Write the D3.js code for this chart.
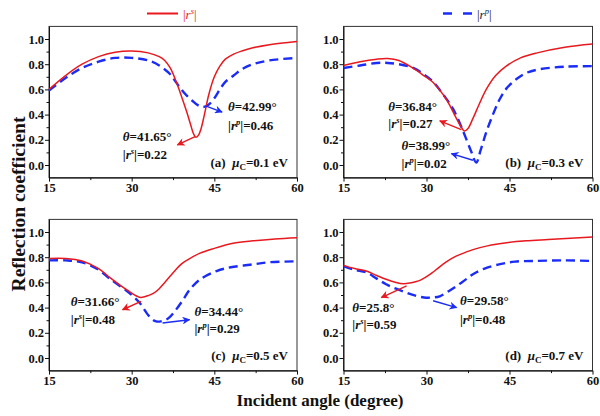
<!DOCTYPE html>
<html><head><meta charset="utf-8">
<script src="https://cdn.jsdelivr.net/npm/d3@7"></script>
<style>
body{margin:0;background:#fff}
svg{display:block}
svg text{font-family:"Liberation Serif","Times New Roman",serif !important;font-weight:bold;fill:#111}
</style>
</head><body>
<svg id="chart" width="600" height="416"></svg>
<script>
// ---------- data ----------
const angleTicks = [15, 30, 45, 60];
const valueTicks = [0.0, 0.2, 0.4, 0.6, 0.8, 1.0];
const panelLabels = ["(a)", "(b)", "(c)", "(d)"];
const muCValues = ["0.1", "0.3", "0.5", "0.7"];

// panel (a)  muC = 0.1 eV
const rsAngleA = [15,18,21,24,27,30,33,35,36,37,38,39,40,40.7,41.2,41.65,42.1,42.6,43.2,44,45,46,47,48.5,50,52,55,60];
const rsValueA = [0.60,0.71,0.80,0.86,0.895,0.905,0.89,0.86,0.83,0.77,0.67,0.55,0.42,0.32,0.25,0.22,0.235,0.29,0.40,0.56,0.70,0.785,0.84,0.88,0.905,0.93,0.955,0.98];
const rpAngleA = [15,18,21,24,27,30,33,35,37,38,39,40,41,42,42.99,44,45,46,47,48.5,50,52,55,60];
const rpValueA = [0.59,0.69,0.77,0.82,0.85,0.85,0.83,0.79,0.72,0.66,0.60,0.55,0.51,0.475,0.46,0.48,0.53,0.60,0.66,0.71,0.76,0.80,0.83,0.85];
// panel (b)  muC = 0.3 eV
const rsAngleB = [15,18,21,23,25,27.5,29.5,31.2,33.6,35.4,36.3,36.84,37.5,38.4,39.5,40.8,42.5,44.4,47,50,55,60];
const rsValueB = [0.79,0.82,0.84,0.845,0.83,0.77,0.71,0.655,0.52,0.37,0.30,0.27,0.29,0.37,0.48,0.60,0.71,0.785,0.85,0.89,0.935,0.96];
const rpAngleB = [15,18,21,23,25,27.6,29.5,31.2,33,34.8,36.6,38.1,38.99,39.8,40.8,42,43.2,44.5,46.2,48,50.4,55,60];
const rpValueB = [0.77,0.79,0.81,0.81,0.80,0.77,0.72,0.66,0.56,0.445,0.27,0.105,0.02,0.12,0.26,0.40,0.52,0.61,0.68,0.73,0.76,0.78,0.785];
// panel (c)  muC = 0.5 eV
const rsAngleC = [15,18,21,24,26,28,29.5,31,31.66,33,34,35,36,37,38,39,40,42.3,45,48.4,52,56,60];
const rsValueC = [0.79,0.79,0.77,0.71,0.64,0.575,0.53,0.49,0.48,0.495,0.515,0.55,0.60,0.65,0.70,0.745,0.775,0.83,0.87,0.91,0.93,0.945,0.955];
const rpAngleC = [15,18,21,24,26,28.9,30,31.4,33.2,34.44,36,36.8,38,39.3,40.5,42.3,45.4,48,51.5,55,60];
const rpValueC = [0.775,0.775,0.76,0.70,0.63,0.54,0.50,0.44,0.33,0.29,0.30,0.32,0.38,0.46,0.54,0.62,0.69,0.72,0.74,0.76,0.767];
// panel (d)  muC = 0.7 eV
const rsAngleD = [15,17,19.1,21,22.7,24.5,25.8,27,28,29,30,31,32,33,34,35,36,38.4,41,44.5,48,52,56,60];
const rsValueD = [0.735,0.71,0.69,0.655,0.625,0.60,0.59,0.595,0.605,0.62,0.645,0.675,0.71,0.745,0.775,0.80,0.82,0.86,0.89,0.915,0.93,0.94,0.95,0.96];
const rpAngleD = [15,17,19.1,21,22.7,24.5,26.3,28,29.58,31,32.4,34,35.4,37,38.4,40.5,43.3,46,49.3,55,60];
const rpValueD = [0.73,0.70,0.68,0.63,0.585,0.55,0.52,0.495,0.48,0.48,0.49,0.53,0.57,0.62,0.665,0.71,0.745,0.765,0.77,0.775,0.77];

// annotated minima
const minAngleS = [41.65, 36.84, 31.66, 25.8];
const minValueS = [0.22, 0.27, 0.48, 0.59];
const minAngleP = [42.99, 38.99, 34.44, 29.58];
const minValueP = [0.46, 0.02, 0.29, 0.48];

// ---------- layout ----------
const FONT = "'Liberation Serif','Times New Roman',serif";
const svg = d3.select("#chart");
const RED = "#e8191e", BLUE = "#1a2cf5";
const cols = [[49, 297], [343.5, 592.5]];
const rows = [[177.6, 26.4], [370.6, 219.4]];

// annotation placement (data units of each panel): arrow start/end, text anchor
const annot = [
  {sArrow:[41.5,0.225,38.3,0.16], sText:[28.4,0.19,0.044], pArrow:[43.4,0.47,46.4,0.42], pText:[47.5,0.425,0.28]},
  {sArrow:[36.3,0.28,32.4,0.35], sText:[23.1,0.427,0.29], pArrow:[38.4,0.038,34.5,0.09], pText:[25.5,0.12,-0.024]},
  {sArrow:[31.7,0.45,28.35,0.383], sText:[18.95,0.413,0.268], pArrow:[35.6,0.278,40.5,0.304], pText:[41.4,0.334,0.202]},
  {sArrow:[26.4,0.572,21.84,0.48], sText:[16.6,0.365,0.234], pArrow:[31.2,0.454,35.45,0.40], pText:[36.05,0.418,0.273]}
];

const series = [
  [rsAngleA, rsValueA, rpAngleA, rpValueA],
  [rsAngleB, rsValueB, rpAngleB, rpValueB],
  [rsAngleC, rsValueC, rpAngleC, rpValueC],
  [rsAngleD, rsValueD, rpAngleD, rpValueD]
];

const defs = svg.append("defs");
[["arR", RED], ["arB", BLUE]].forEach(([id, c]) => {
  defs.append("marker").attr("id", id).attr("viewBox", "0 0 10 10")
    .attr("refX", 9).attr("refY", 5).attr("markerWidth", 9).attr("markerHeight", 8)
    .attr("markerUnits", "userSpaceOnUse").attr("orient", "auto")
    .append("path").attr("d", "M0,0 L10,5 L0,10 L3,5 Z").attr("fill", c);
});

function minorVals(ticks, step) {
  const out = [];
  for (let i = 0; i < ticks.length - 1; i++) out.push(ticks[i] + step);
  return out;
}

function rsLabel(sel, sup, val) {
  sel.append("tspan").text("|");
  sel.append("tspan").attr("font-style", "italic").text("r");
  sel.append("tspan").attr("font-style", "italic").attr("font-size", "8.5px").attr("dy", -5).text(sup);
  sel.append("tspan").attr("dy", 5).text("|" + (val !== null ? "=" + val : ""));
}

series.forEach((s, i) => {
  const col = cols[i % 2], row = rows[Math.floor(i / 2)];
  const x = d3.scaleLinear().domain([15, 60]).range(col);
  const y = d3.scaleLinear().domain([-0.1, 1.1]).range(row);
  const g = svg.append("g");

  // frame
  g.append("rect").attr("x", col[0]).attr("y", row[1])
    .attr("width", col[1] - col[0]).attr("height", row[0] - row[1])
    .attr("fill", "none").attr("stroke", "#333").attr("stroke-width", 1);

  // axes
  const yAx = g.append("g").attr("transform", `translate(${col[0]},0)`)
    .call(d3.axisLeft(y).tickValues(valueTicks).tickSize(4).tickSizeOuter(0).tickPadding(1).tickFormat(d3.format(".1f")));
  g.append("g").attr("transform", `translate(${col[0]},0)`)
    .call(d3.axisLeft(y).tickValues(minorVals(valueTicks, 0.1)).tickSize(2.5).tickSizeOuter(0).tickFormat(""))
    .select(".domain").remove();
  const xAx = g.append("g").attr("transform", `translate(0,${row[0]})`)
    .call(d3.axisBottom(x).tickValues(angleTicks).tickSize(4).tickSizeOuter(0).tickPadding(2).tickFormat(d3.format("d")));
  g.append("g").attr("transform", `translate(0,${row[0]})`)
    .call(d3.axisBottom(x).tickValues(minorVals(angleTicks, 7.5)).tickSize(2.5).tickSizeOuter(0).tickFormat(""))
    .select(".domain").remove();
  [yAx, xAx].forEach(a => {
    a.attr("font-family", FONT);
    a.selectAll("text").attr("font-size", "12.5px").style("font-family", FONT).style("font-weight", "bold").attr("fill", "#111");
    a.selectAll("line,path").attr("stroke", "#111");
  });
  g.selectAll(".tick line").attr("stroke", "#111");

  // curves
  const line = (ax, vals) => d3.line().x((d, k) => x(ax[k])).y((d, k) => y(vals[k])).curve(d3.curveCatmullRom.alpha(0.5))(vals);
  g.append("path").attr("d", line(s[2], s[3])).attr("fill", "none")
    .attr("stroke", BLUE).attr("stroke-width", 2.4).attr("stroke-dasharray", "9,5");
  g.append("path").attr("d", line(s[0], s[1])).attr("fill", "none")
    .attr("stroke", RED).attr("stroke-width", 1.5);

  // annotations
  const a = annot[i];
  g.append("line").attr("x1", x(a.sArrow[0])).attr("y1", y(a.sArrow[1]))
    .attr("x2", x(a.sArrow[2])).attr("y2", y(a.sArrow[3]))
    .attr("stroke", RED).attr("stroke-width", 1.4).attr("marker-end", "url(#arR)");
  g.append("line").attr("x1", x(a.pArrow[0])).attr("y1", y(a.pArrow[1]))
    .attr("x2", x(a.pArrow[2])).attr("y2", y(a.pArrow[3]))
    .attr("stroke", BLUE).attr("stroke-width", 1.4).attr("marker-end", "url(#arB)");

  const t1 = g.append("text").attr("x", x(a.sText[0])).attr("y", y(a.sText[1])).attr("font-size", "13px");
  t1.append("tspan").attr("font-style", "italic").text("θ");
  t1.append("tspan").text("=" + minAngleS[i] + "°");
  const t2 = g.append("text").attr("x", x(a.sText[0])).attr("y", y(a.sText[2])).attr("font-size", "13px");
  rsLabel(t2, "s", minValueS[i].toFixed(2));

  const t3 = g.append("text").attr("x", x(a.pText[0])).attr("y", y(a.pText[1])).attr("font-size", "13px");
  t3.append("tspan").attr("font-style", "italic").text("θ");
  t3.append("tspan").text("=" + minAngleP[i] + "°");
  const t4 = g.append("text").attr("x", x(a.pText[0])).attr("y", y(a.pText[2])).attr("font-size", "13px");
  rsLabel(t4, "p", minValueP[i].toFixed(2));

  // panel label
  const pl = g.append("text").attr("x", col[1] - 9).attr("y", row[0] - 11)
    .attr("text-anchor", "end").attr("font-size", "13px");
  pl.append("tspan").text(panelLabels[i] + "\u00a0\u00a0");
  pl.append("tspan").attr("font-style", "italic").text("μ");
  pl.append("tspan").attr("font-size", "9px").attr("dy", 3).text("C");
  pl.append("tspan").attr("dy", -3).text("=" + muCValues[i] + " eV");
});

// legend
svg.append("line").attr("x1", 147).attr("x2", 178).attr("y1", 13.5).attr("y2", 13.5)
  .attr("stroke", RED).attr("stroke-width", 2);
const l1 = svg.append("text").attr("x", 183).attr("y", 19).attr("font-size", "13px").style("font-weight", "normal");
rsLabel(l1, "s", null);
l1.selectAll("tspan").style("fill", RED);
svg.append("line").attr("x1", 443).attr("x2", 472).attr("y1", 13.5).attr("y2", 13.5)
  .attr("stroke", BLUE).attr("stroke-width", 2.6).attr("stroke-dasharray", "9,11");
const l2 = svg.append("text").attr("x", 477).attr("y", 19).attr("font-size", "13px").style("font-weight", "normal");
rsLabel(l2, "p", null);
l2.selectAll("tspan").style("fill", "#223");

// axis titles
svg.append("text").attr("x", 320).attr("y", 406).attr("text-anchor", "middle")
  .attr("font-size", "17px").text("Incident angle (degree)");
svg.append("text").attr("transform", "translate(25,204) rotate(-90)").attr("text-anchor", "middle")
  .attr("font-size", "19.5px").text("Reflection coefficient");
</script>
</body></html>
